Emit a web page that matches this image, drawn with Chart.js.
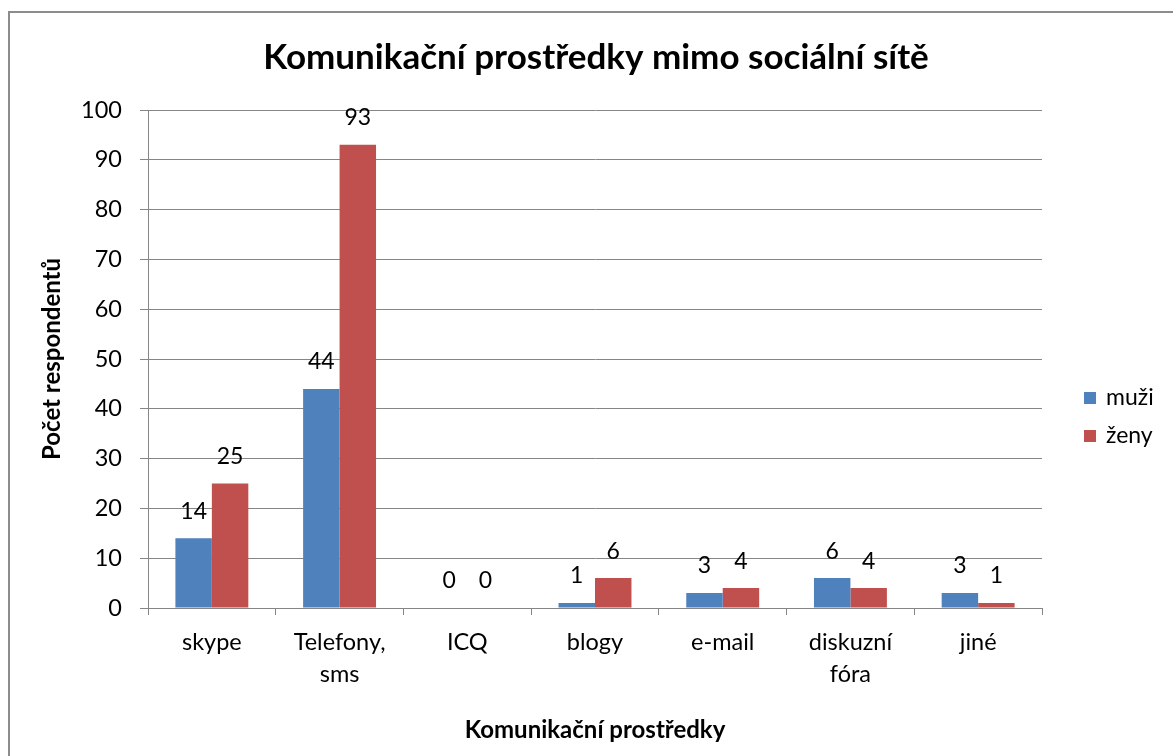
<!DOCTYPE html>
<html>
<head>
<meta charset="utf-8">
<title>Komunikační prostředky</title>
<script src="https://cdn.jsdelivr.net/npm/chart.js@4.4.0/dist/chart.umd.min.js"></script>
<style>
  html, body { margin: 0; padding: 0; background: #fff; }
  #wrap { width: 1173px; height: 756px; position: relative; }
</style>
</head>
<body>
<div id="wrap"><canvas id="chart" width="1173" height="756"></canvas></div>
<script>
const categories = ['skype', ['Telefony,', 'sms'], 'ICQ', 'blogy', 'e-mail', ['diskuzní', 'fóra'], 'jiné'];
const muzi = [14, 44, 0, 1, 3, 6, 3];
const zeny = [25, 93, 0, 6, 4, 4, 1];
const yTicks = [0, 10, 20, 30, 40, 50, 60, 70, 80, 90, 100];
const chartTitle = 'Komunikační prostředky mimo sociální sítě';

const FONT = 'Lato, "Noto Sans", sans-serif';
const gridGray = '#868686';

// frame around the whole chart (it runs off the right and bottom edge) + title
const framePlugin = {
  id: 'frame',
  beforeDraw(chart) {
    const ctx = chart.ctx;
    ctx.save();
    ctx.strokeStyle = '#8c8c8c';
    ctx.lineWidth = 2;
    ctx.strokeRect(9, 12, 1200, 800);
    ctx.font = 'bold 35px ' + FONT;
    ctx.fillStyle = '#000';
    ctx.textAlign = 'center';
    ctx.textBaseline = 'middle';
    ctx.fillText(chartTitle, 596, 58);
    ctx.restore();
  }
};

// value labels above each bar
const valueLabels = {
  id: 'valueLabels',
  afterDatasetsDraw(chart) {
    const ctx = chart.ctx;
    ctx.save();
    ctx.font = '23px ' + FONT;
    ctx.fillStyle = '#000';
    ctx.textAlign = 'center';
    ctx.textBaseline = 'middle';
    chart.data.datasets.forEach((ds, i) => {
      chart.getDatasetMeta(i).data.forEach((bar, j) => {
        ctx.fillText(String(ds.data[j]), bar.x, bar.y - 27);
      });
    });
    ctx.restore();
  }
};

// legend on the right, Excel style
const sideLegend = {
  id: 'sideLegend',
  afterDraw(chart) {
    const ctx = chart.ctx;
    ctx.save();
    ctx.font = '23px ' + FONT;
    ctx.textBaseline = 'middle';
    chart.data.datasets.forEach((ds, i) => {
      const y = 398 + i * 38;
      ctx.fillStyle = ds.backgroundColor;
      ctx.fillRect(1084, y - 6, 12, 12);
      ctx.fillStyle = '#000';
      ctx.fillText(ds.label, 1106, y);
    });
    ctx.restore();
  }
};

new Chart(document.getElementById('chart'), {
  type: 'bar',
  data: {
    labels: categories,
    datasets: [
      { label: 'muži', data: muzi, backgroundColor: '#4F81BD' },
      { label: 'ženy', data: zeny, backgroundColor: '#C0504D' }
    ]
  },
  options: {
    responsive: false,
    animation: false,
    devicePixelRatio: 1,
    layout: { padding: { top: 110, left: 30, right: 131, bottom: 0 } },
    datasets: { bar: { categoryPercentage: 0.571, barPercentage: 1.0, borderWidth: 0 } },
    plugins: {
      legend: { display: false },
      tooltip: { enabled: false },
      title: { display: false }
    },
    scales: {
      x: {
        grid: { display: true, drawOnChartArea: false, drawTicks: true, tickLength: 7, color: gridGray, offset: true },
        border: { color: gridGray, width: 1 },
        ticks: { color: '#000', font: { family: FONT, size: 23.5, lineHeight: 1.36 }, padding: 11, maxRotation: 0, autoSkip: false },
        title: {
          display: true,
          text: 'Komunikační prostředky',
          color: '#000',
          font: { family: FONT, size: 24, weight: 'bold', lineHeight: 1.2 },
          padding: { top: 0, bottom: 11 }
        },
        afterFit(scale) { scale.height = 148; }
      },
      y: {
        min: 0,
        max: 100,
        afterBuildTicks(scale) { scale.ticks = yTicks.map(v => ({ value: v })); },
        grid: { color: gridGray, tickLength: 8, drawTicks: true },
        border: { color: gridGray, width: 1 },
        ticks: { color: '#000', font: { family: FONT, size: 23.5 }, padding: 18 },
        title: {
          display: true,
          text: 'Počet respondentů',
          color: '#000',
          font: { family: FONT, size: 24, weight: 'bold', lineHeight: 1.2 },
          padding: { top: 8, bottom: 0 }
        },
        afterFit(scale) { scale.width = 118; }
      }
    }
  },
  plugins: [framePlugin, valueLabels, sideLegend]
});
</script>
</body>
</html>
